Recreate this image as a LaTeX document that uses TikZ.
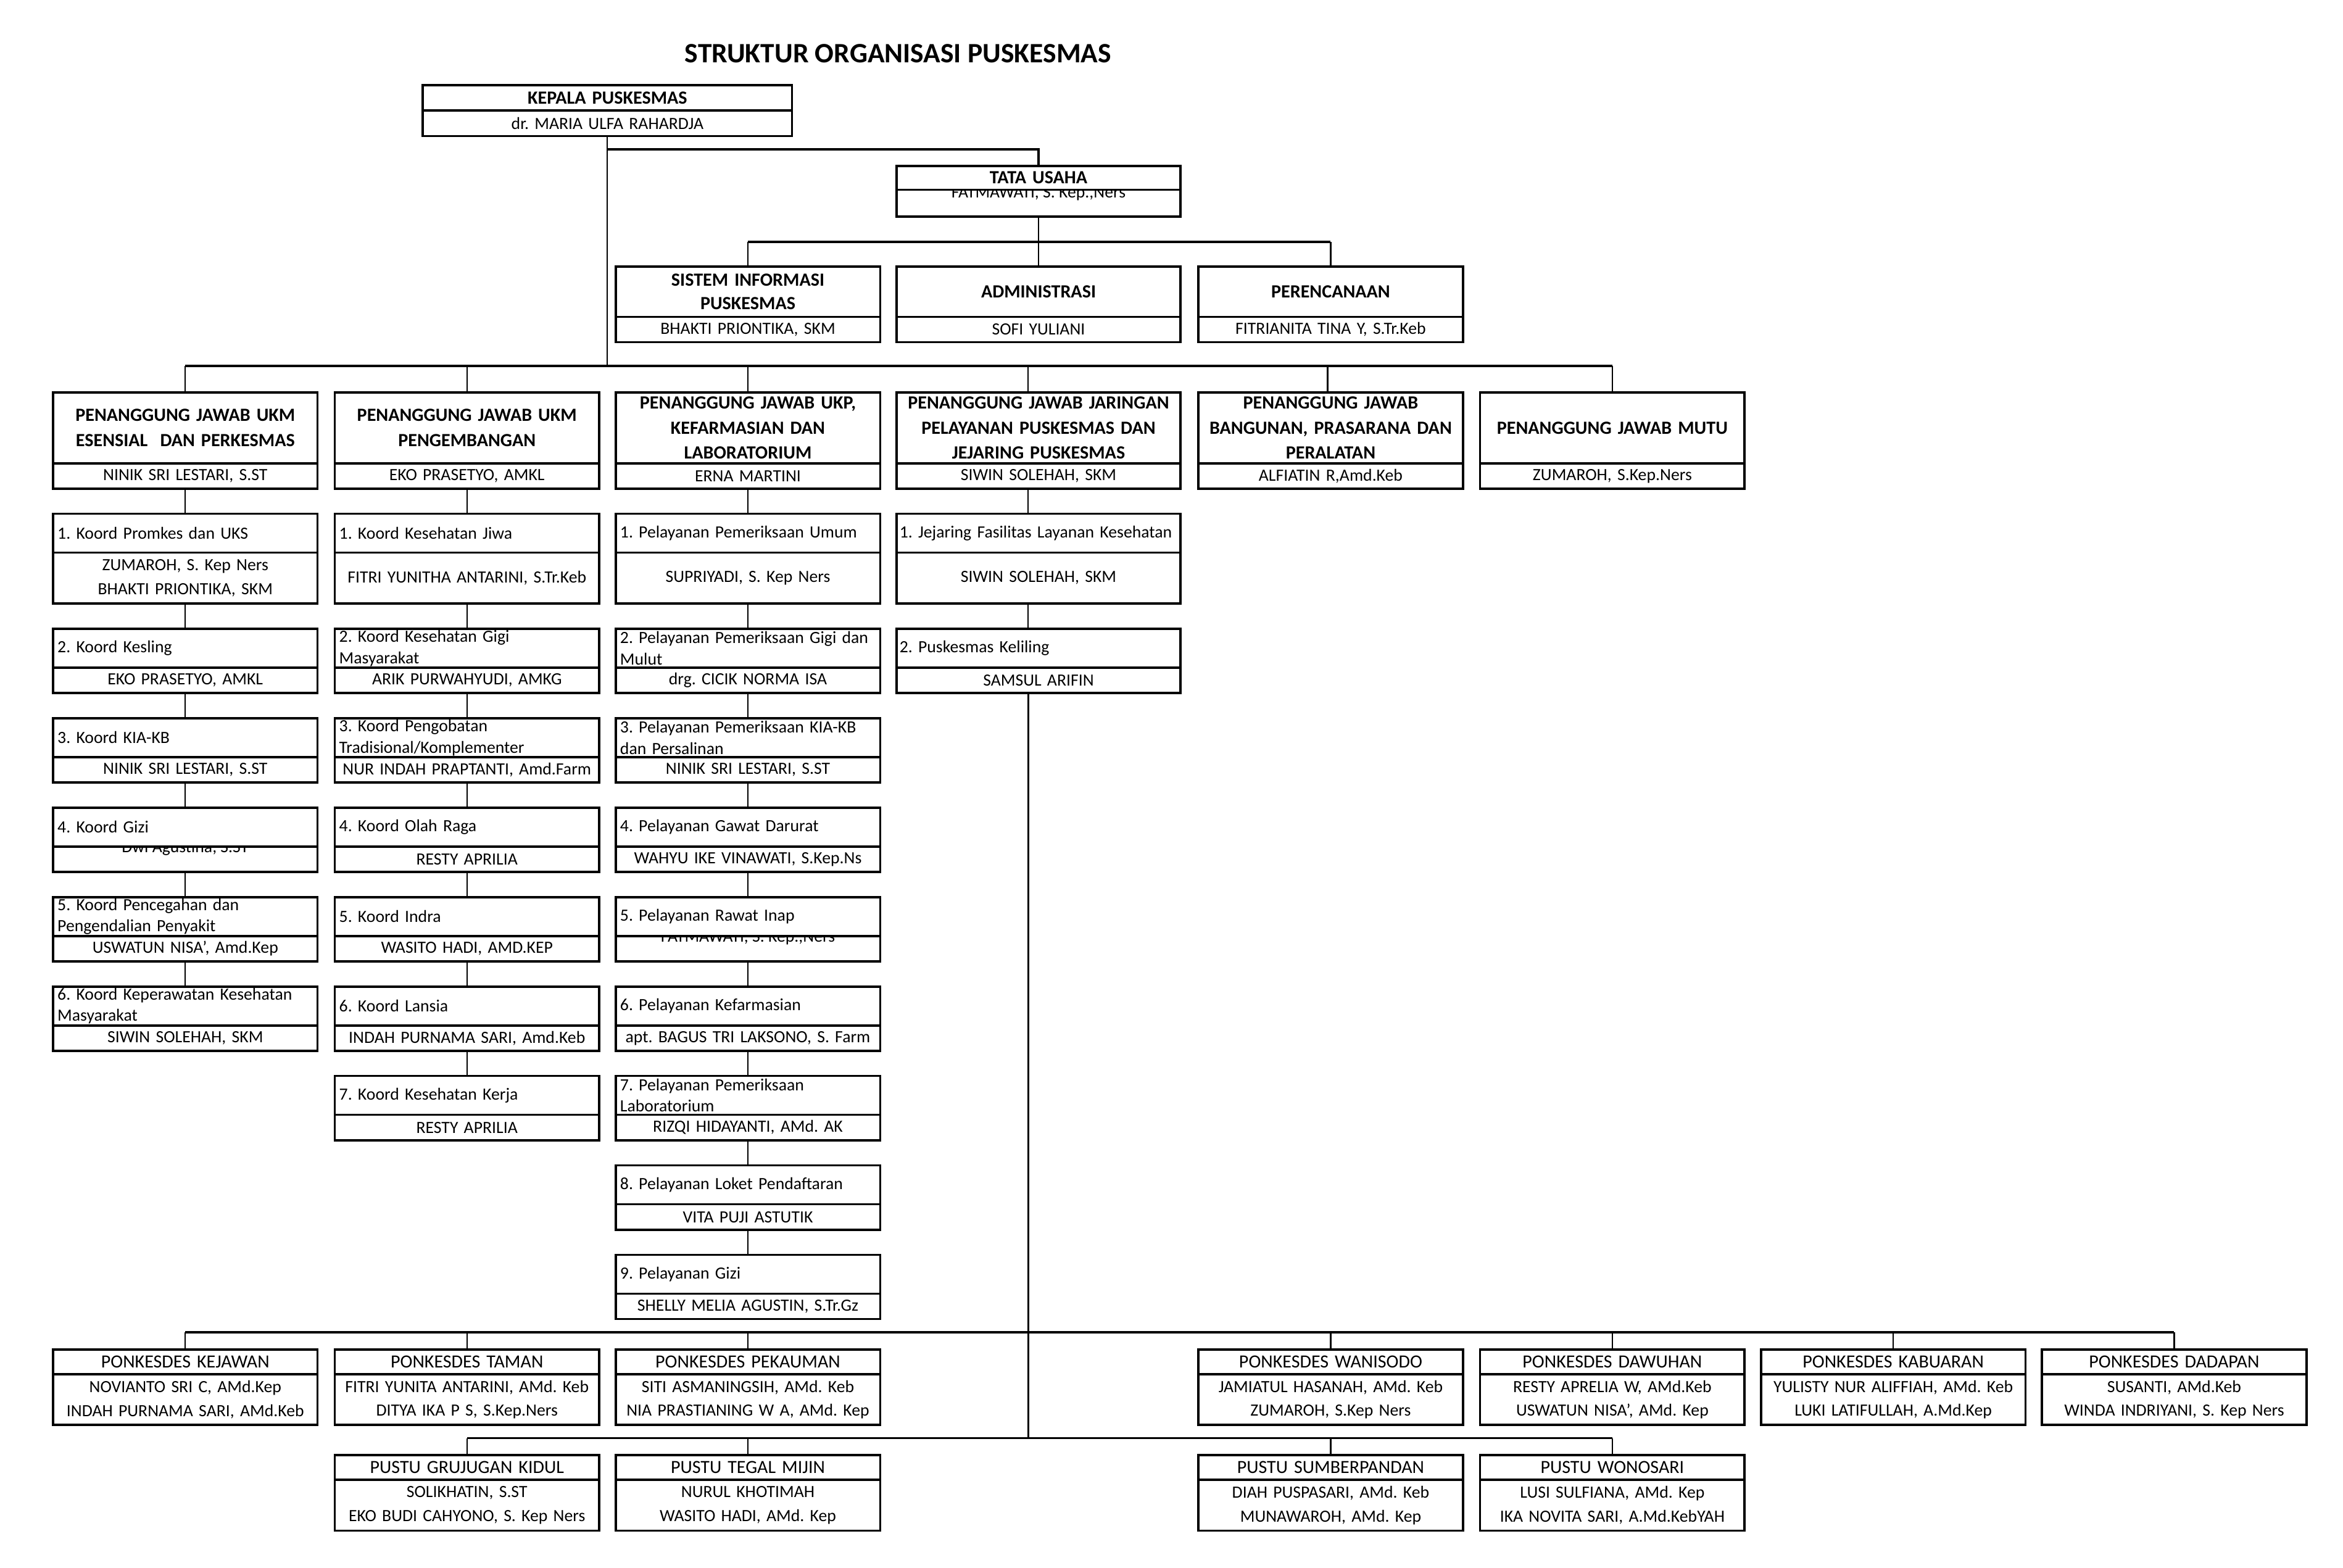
\documentclass[tikz,border=0pt]{standalone}
\usepackage{fontspec}
\setmainfont{Carlito}
\usetikzlibrary{positioning,calc}

\newcommand{\txt}{\fontsize{11.45}{16}\selectfont}
\newcommand{\hdtxt}{\fontsize{12.45}{16.8}\selectfont\bfseries}
\newcommand{\subtxt}{\fontsize{11.45}{14.2}\selectfont\hyphenpenalty=10000}
\newcommand{\ptxt}{\fontsize{12.4}{16}\selectfont}

\begin{document}
\frenchspacing
\begin{tikzpicture}[x=1pt, y=-1pt, font=\txt,
  box/.style={draw, line width=1.5pt, outer sep=0pt, anchor=north, inner xsep=3pt, inner ysep=0.5pt, text width=171pt, align=center},
  hd/.style={box, font=\hdtxt},
  sub/.style={box, align=left, minimum height=26pt, font=\subtxt},
  nm/.style={box, minimum height=17pt},
  nm2/.style={box, minimum height=34pt},
  ln/.style={line width=0.9pt},
  bus/.style={line width=1.6pt}]
\useasboundingbox (0,0) rectangle (1568,1049);

% levels of the horizontal bars
\coordinate (lvA) at (0,100);
\coordinate (lvB) at (0,162);
\coordinate (lvC) at (0,245);
\coordinate (lvD) at (0,891.6);
\coordinate (lvE) at (0,962.4);

\node[font=\fontsize{18.8}{22}\selectfont\bfseries] (title) at (601,36) {STRUKTUR ORGANISASI PUSKESMAS};

% kepala and tata usaha
\node[hd, text width=241pt, minimum height=17pt] (kep) at (406.5,57) {KEPALA PUSKESMAS};
\node[nm, text width=241pt] (kep-nm) at (kep.south) {dr. MARIA ULFA RAHARDJA};
\node[hd, text width=184pt, minimum height=16pt] (tu) at (695,111) {TATA USAHA};
\node[nm, text width=184pt, minimum height=18pt] (tu-nm) at (tu.south) {};

\foreach \n/\x/\w/\t/\p in {si/500.5/171/{SISTEM INFORMASI\\PUSKESMAS}/{BHAKTI PRIONTIKA, SKM},
    adm/695/184/ADMINISTRASI/SOFI YULIANI, ren/890.5/171/PERENCANAAN/{FITRIANITA TINA Y, S.Tr.Keb}} {
  \node[hd, text width=\w pt, minimum height=33.7pt, font=\fontsize{12.45}{15.8}\selectfont\bfseries] (\n) at (\x,178.3) {\t};
  \node[nm, text width=\w pt] (\n-nm) at (\n.south) {\p};
  \draw[ln] (\n.north |- lvB) -- (\n.north);
}

% penanggung jawab
\foreach \n/\x/\w/\o/\t/\p in {
    pj1/124/171/0/{PENANGGUNG JAWAB UKM\\ESENSIAL\ \ DAN PERKESMAS}/{NINIK SRI LESTARI, S.ST},
    pj2/312.5/171/0/{PENANGGUNG JAWAB UKM\\PENGEMBANGAN}/{EKO PRASETYO, AMKL},
    pj3/500.5/171/0/{PENANGGUNG JAWAB UKP,\\KEFARMASIAN DAN\\LABORATORIUM}/{ERNA MARTINI},
    pj4/695/184/-7/{PENANGGUNG JAWAB JARINGAN\\PELAYANAN PUSKESMAS DAN\\JEJARING PUSKESMAS}/{SIWIN SOLEHAH, SKM},
    pj5/890.5/171/-2/{PENANGGUNG JAWAB\\BANGUNAN, PRASARANA DAN\\PERALATAN}/{ALFIATIN R,Amd.Keb},
    pj6/1079/171/0/{PENANGGUNG JAWAB MUTU}/{ZUMAROH, S.Kep.Ners}} {
  \node[hd, text width=\w pt, minimum height=47.4pt] (\n) at (\x,262.6) {\t};
  \node[nm, text width=\w pt] (\n-nm) at (\n.south) {\p};
  \draw[ln] ([xshift=\o pt]\n.north |- lvC) -- ([xshift=\o pt]\n.north);
}

\draw[ln] (kep-nm.south) -- (kep-nm.south |- lvC);
\draw[bus] (kep-nm.south |- lvA) -| (tu.north);
\draw[ln] (tu-nm.south) -- (tu-nm.south |- lvB);
\draw[bus] (si.north |- lvB) -- (ren.north |- lvB);
\draw[bus] (pj1.north |- lvC) -- (pj6.north |- lvC);

% koordinator ukm esensial
\foreach \t/\p [count=\i] in {
    {1. Koord Promkes dan UKS}/{ZUMAROH, S. Kep Ners\\BHAKTI PRIONTIKA, SKM},
    {2. Koord Kesling}/{EKO PRASETYO, AMKL},
    {3. Koord KIA-KB}/{NINIK SRI LESTARI, S.ST},
    {4. Koord Gizi}/{},
    {5. Koord Pencegahan dan\\Pengendalian Penyakit}/{USWATUN NISA', Amd.Kep},
    {6. Koord Keperawatan Kesehatan\\Masyarakat}/{SIWIN SOLEHAH, SKM}} {
  \pgfmathsetmacro{\ry}{\i==1 ? 343.8 : 301.1+59.85*\i}
  \pgfmathsetmacro{\rh}{\i==1 ? 34 : 17}
  \node[sub] (a\i) at (124,\ry) {\t};
  \node[nm, minimum height=\rh pt] (a\i-nm) at (a\i.south) {\p};
}

% koordinator ukm pengembangan
\foreach \t/\p [count=\i] in {
    {1. Koord Kesehatan Jiwa}/{FITRI YUNITHA ANTARINI, S.Tr.Keb},
    {2. Koord Kesehatan Gigi\\Masyarakat}/{ARIK PURWAHYUDI, AMKG},
    {3. Koord Pengobatan\\Tradisional/Komplementer}/{NUR INDAH PRAPTANTI, Amd.Farm},
    {4. Koord Olah Raga}/{RESTY APRILIA},
    {5. Koord Indra}/{WASITO HADI, AMD.KEP},
    {6. Koord Lansia}/{INDAH PURNAMA SARI, Amd.Keb},
    {7. Koord Kesehatan Kerja}/{RESTY APRILIA}} {
  \pgfmathsetmacro{\ry}{\i==1 ? 343.8 : 301.1+59.85*\i}
  \pgfmathsetmacro{\rh}{\i==1 ? 34 : 17}
  \node[sub] (b\i) at (312.5,\ry) {\t};
  \node[nm, minimum height=\rh pt] (b\i-nm) at (b\i.south) {\p};
}

% pelayanan ukp
\foreach \t/\p [count=\i] in {
    {1. Pelayanan Pemeriksaan Umum}/{SUPRIYADI, S. Kep Ners},
    {2. Pelayanan Pemeriksaan Gigi dan\\Mulut}/{drg. CICIK NORMA ISA},
    {3. Pelayanan Pemeriksaan KIA-KB\\dan Persalinan}/{NINIK SRI LESTARI, S.ST},
    {4. Pelayanan Gawat Darurat}/{WAHYU IKE VINAWATI, S.Kep.Ns},
    {5. Pelayanan Rawat Inap}/{},
    {6. Pelayanan Kefarmasian}/{apt. BAGUS TRI LAKSONO, S. Farm},
    {7. Pelayanan Pemeriksaan\\Laboratorium}/{RIZQI HIDAYANTI, AMd. AK},
    {8. Pelayanan Loket Pendaftaran}/{VITA PUJI ASTUTIK},
    {9. Pelayanan Gizi}/{SHELLY MELIA AGUSTIN, S.Tr.Gz}} {
  \pgfmathsetmacro{\ry}{\i==1 ? 343.8 : 301.1+59.85*\i}
  \pgfmathsetmacro{\rh}{\i==1 ? 34 : 17}
  \node[sub] (c\i) at (500.5,\ry) {\t};
  \node[nm, minimum height=\rh pt] (c\i-nm) at (c\i.south) {\p};
}

% jejaring
\foreach \t/\p [count=\i] in {
    {1. Jejaring Fasilitas Layanan Kesehatan}/{SIWIN SOLEHAH, SKM},
    {2. Puskesmas Keliling}/{SAMSUL ARIFIN}} {
  \pgfmathsetmacro{\ry}{\i==1 ? 343.8 : 301.1+59.85*\i}
  \pgfmathsetmacro{\rh}{\i==1 ? 34 : 17}
  \node[sub, inner xsep=2pt, text width=186pt] (d\i) at (695,\ry) {\t};
  \node[nm, text width=184pt, minimum height=\rh pt] (d\i-nm) at (d\i.south) {\p};
}

\foreach \c/\n in {a/pj1, b/pj2, c/pj3} \draw[ln] (\n-nm.south) -- (\c1.north);
\foreach \i [count=\j from 2] in {1,...,5} \draw[ln] (a\i-nm.south) -- (a\j.north);
\foreach \i [count=\j from 2] in {1,...,6} \draw[ln] (b\i-nm.south) -- (b\j.north);
\foreach \i [count=\j from 2] in {1,...,8} \draw[ln] (c\i-nm.south) -- (c\j.north);
\draw[ln] ([xshift=-7pt]pj4-nm.south) -- ([xshift=-7pt]d1.north);
\draw[ln] ([xshift=-7pt]d1-nm.south) -- ([xshift=-7pt]d2.north);
\draw[line width=1.2pt] ([xshift=-7pt]d2-nm.south) -- ([xshift=-7pt]d2-nm.south |- lvE);

% names cut at the top
\foreach \n/\s/\t in {tu-nm/5.2/{FATMAWATI, S. Kep.,Ners}, a4-nm/3.8/{Dwi Agustina, S.ST}, c5-nm/4/{FATMAWATI, S. Kep.,Ners}} {
  \begin{scope}
    \clip (\n.north west) rectangle (\n.south east);
    \node[anchor=base] (\n-cut) at ([yshift=-\s pt]\n.north) {\t};
  \end{scope}
}

% ponkesdes
\foreach \n/\x/\t/\p in {
    k1/124/KEJAWAN/{NOVIANTO SRI C, AMd.Kep\\INDAH PURNAMA SARI, AMd.Keb},
    k2/312.5/TAMAN/{FITRI YUNITA ANTARINI, AMd. Keb\\DITYA IKA P S, S.Kep.Ners},
    k3/500.5/PEKAUMAN/{SITI ASMANINGSIH, AMd. Keb\\NIA PRASTIANING W A, AMd. Kep},
    k4/890.5/WANISODO/{JAMIATUL HASANAH, AMd. Keb\\ZUMAROH, S.Kep Ners},
    k5/1079/DAWUHAN/{RESTY APRELIA W, AMd.Keb\\USWATUN NISA', AMd. Kep},
    k6/1267/KABUARAN/{YULISTY NUR ALIFFIAH, AMd. Keb\\LUKI LATIFULLAH, A.Md.Kep},
    k7/1455/DADAPAN/{SUSANTI, AMd.Keb\\WINDA INDRIYANI, S. Kep Ners}} {
  \node[box, font=\ptxt, minimum height=16.6pt] (\n) at (\x,903) {PONKESDES \t};
  \node[nm2] (\n-nm) at (\n.south) {\p};
  \draw[ln] (\n.north |- lvD) -- (\n.north);
}
\draw[bus] (k1.north |- lvD) -- (k7.north |- lvD);

% pustu
\foreach \n/\x/\t/\p in {
    t1/312.5/GRUJUGAN KIDUL/{SOLIKHATIN, S.ST\\EKO BUDI CAHYONO, S. Kep Ners},
    t2/500.5/TEGAL MIJIN/{NURUL KHOTIMAH\\WASITO HADI, AMd. Kep},
    t3/890.5/SUMBERPANDAN/{DIAH PUSPASARI, AMd. Keb\\MUNAWAROH, AMd. Kep},
    t4/1079/WONOSARI/{LUSI SULFIANA, AMd. Kep\\IKA NOVITA SARI, A.Md.KebYAH}} {
  \node[box, font=\ptxt, minimum height=16.5pt] (\n) at (\x,973.8) {PUSTU \t};
  \node[nm2] (\n-nm) at (\n.south) {\p};
  \draw[ln] (\n.north |- lvE) -- (\n.north);
}
\draw[bus] (t1.north |- lvE) -- (t4.north |- lvE);
\end{tikzpicture}
\end{document}
